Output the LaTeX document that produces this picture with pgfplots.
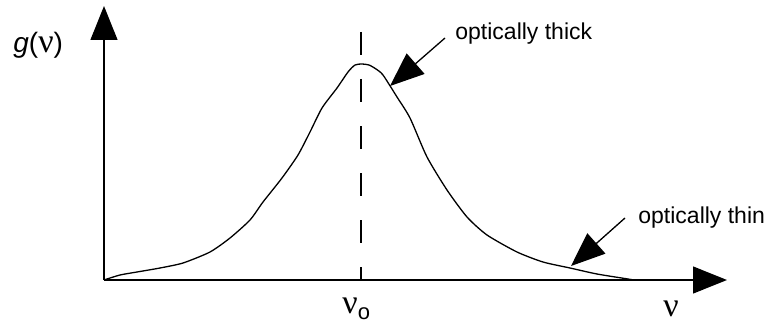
\documentclass[border=0pt]{standalone}
\usepackage{pgfplots}
\pgfplotsset{compat=1.18}
\usepackage{fontspec}
\setmainfont{Liberation Sans}
\newfontfamily\grk{Liberation Serif}
\usetikzlibrary{arrows.meta}

\tikzset{
  bigtip/.style={-{Triangle[length=17pt,width=13.5pt]}},
}

\begin{document}
\begin{tikzpicture}
\begin{axis}[
  width=383pt, height=161pt, scale only axis,
  xmin=-104, xmax=662, ymin=-42, ymax=280,
  hide axis, clip=false,
]
\coordinate (BL) at (axis cs:-104,-42);
\coordinate (TR) at (axis cs:662,280);

% line profile g(nu)
\addplot[black, line width=0.65pt, smooth, tension=0.4] coordinates {
(0,0) (16,5) (33,8) (56,12) (79,17) (106,28) (126,42) (146,60) (159,78)
(178,102) (194,125) (206,148) (218,172) (233,192) (244,208) (251,215)
(258,216) (265,215) (272,211) (279,205) (293,183) (306,162) (323,123)
(343,90) (363,63) (383,45) (413,28) (439,18) (466,12) (493,6) (524,1) (530,0)
};

% axes
\draw[bigtip, line width=0.65pt] (axis cs:0,0) -- (axis cs:0,274);
\draw[bigtip, line width=0.65pt] (axis cs:0,0) -- (axis cs:623,0);

% line centre
\draw[line width=0.65pt, dash pattern=on 11.5pt off 12pt] (axis cs:257,248) -- (axis cs:257,0);

% annotations
\draw[bigtip, line width=0.65pt] (axis cs:341,242) -- (axis cs:286,194);
\draw[bigtip, line width=0.65pt] (axis cs:521,62) -- (axis cs:467,14);
\node[anchor=base west, inner sep=0pt, font=\fontsize{11.5}{13}\selectfont] at (axis cs:351,240) {optically thick};
\node[anchor=base west, inner sep=0pt, font=\fontsize{11.5}{13}\selectfont] at (axis cs:534,57) {optically thin};

% axis labels
\node[anchor=base west, inner sep=0pt, font=\fontsize{14}{16}\selectfont] at (axis cs:-91,228)
  {\textit{g}({\grk\fontsize{17}{18}\selectfont ν})};
\node[anchor=base west, inner sep=0pt, font=\grk\fontsize{17}{18}\selectfont] at (axis cs:559,-36.5) {ν};
\node[anchor=base west, inner sep=0pt, font=\grk\fontsize{17}{18}\selectfont] at (axis cs:238,-33)
  {ν\raisebox{-3pt}{\rmfamily\fontsize{11}{12}\selectfont o}};
\end{axis}
\pgfresetboundingbox
\path (BL) rectangle (TR);
\end{tikzpicture}
\end{document}
